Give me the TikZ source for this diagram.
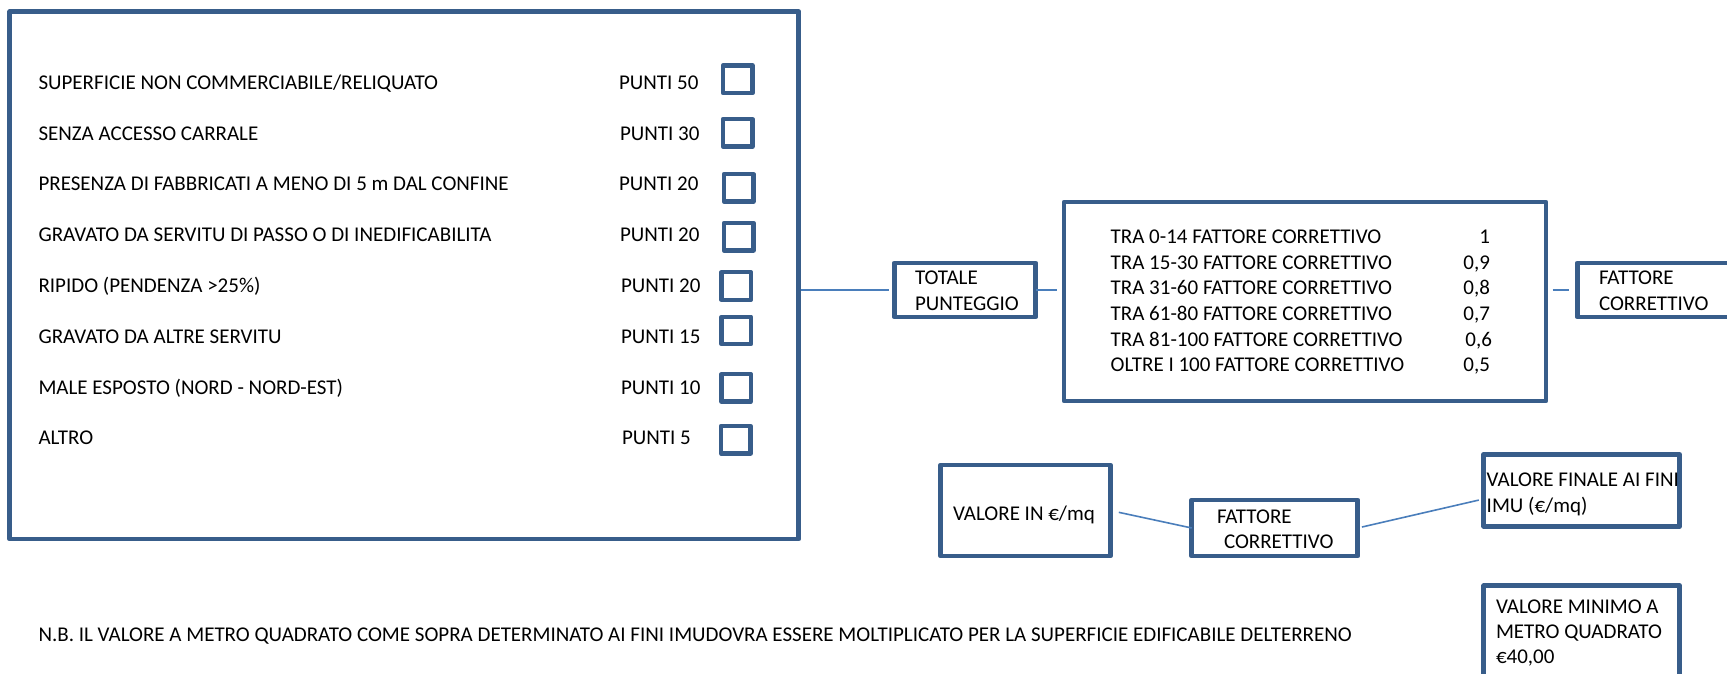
\documentclass[tikz,border=0pt]{standalone}
\usepackage{fontspec}
\setmainfont{Carlito}
\usetikzlibrary{calc}
\definecolor{boxc}{HTML}{385D8A}
\definecolor{linec}{HTML}{4A7EBB}
\begin{document}
\begin{tikzpicture}[x=1pt,y=-1pt,
  bx/.style={draw=boxc,line width=4.7pt,line join=round,rectangle,inner sep=0pt,outer sep=0pt},
  chk/.style={draw=boxc,line width=4.3pt,line join=round,rectangle,inner sep=0pt,outer sep=0pt,minimum width=29.5pt,minimum height=27.5pt},
  lbl/.style={anchor=base west,inner sep=0pt,outer sep=0pt,font=\fontsize{21}{25.7}\selectfont,text=black},
  val/.style={lbl,anchor=base east},
  conn/.style={draw=linec,line width=1.6pt}]
\useasboundingbox (0,0) rectangle (1727,674);
\clip (0,0) rectangle (1727,674);
\fill[white] (0,0) rectangle (1727,674);

% boxes
\node[bx,minimum width=789.1pt,minimum height=527.3pt] (big) at (404.25,275.35) {};
\node[bx,minimum width=141.4pt,minimum height=54pt] (tot) at (965,290) {};
\node[bx,minimum width=482pt,minimum height=199pt] (tab) at (1305,301.5) {};
\node[bx,minimum width=167.7pt,minimum height=54pt] (fat) at (1661.15,290) {};
\node[bx,minimum width=169.6pt,minimum height=91pt] (vin) at (1025.5,510.5) {};
\node[bx,minimum width=166pt,minimum height=56pt] (fs) at (1274.7,528) {};
\node[bx,minimum width=195.9pt,minimum height=71.9pt] (vf) at (1581.65,490.35) {};
\node[bx,minimum width=195.9pt,minimum height=114.3pt] (vmin) at (1581.65,642.85) {};

% checkboxes
\node[chk] (c1) at (737.7,79.3) {};
\node[chk] (c2) at (737.7,132.8) {};
\node[chk] (c3) at (738.7,187.8) {};
\node[chk] (c4) at (738.7,236.7) {};
\node[chk] (c5) at (736.2,286) {};
\node[chk] (c6) at (736.2,330.5) {};
\node[chk] (c7) at (736.2,387.8) {};
\node[chk] (c8) at (735.8,439.7) {};

% connectors
\draw[conn,shorten <=2.4pt,shorten >=5.6pt] (big.east |- tot.west) -- (tot.west);
\draw[conn,shorten >=7.3pt] (tot.east) -- (tab.west |- tot.east);
\draw[conn,shorten <=6.7pt,shorten >=8pt] (tab.east |- fat.west) -- (fat.west);
\draw[conn,shorten <=8.7pt] (vin.east) -- (fs.west);
\draw[conn,shorten <=4.3pt,shorten >=5pt] (fs.east) -- ($(vf.west)+(0,8.6)$);

% left list
\node[lbl] (t1) at (38.5,89.3) {SUPERFICIE NON COMMERCIABILE/RELIQUATO};
\node[lbl] (t2) at (38.5,140.1) {SENZA ACCESSO CARRALE};
\node[lbl] (t3) at (38.5,190.9) {PRESENZA DI FABBRICATI A MENO DI 5 m DAL CONFINE};
\node[lbl] (t4) at (38.5,241.7) {GRAVATO DA SERVITU DI PASSO O DI INEDIFICABILITA};
\node[lbl] (t5) at (38.5,292.5) {RIPIDO (PENDENZA >25\%)};
\node[lbl] (t6) at (38.5,343.3) {GRAVATO DA ALTRE SERVITU};
\node[lbl] (t7) at (38.5,394.1) {MALE ESPOSTO (NORD - NORD-EST)};
\node[lbl] (t8) at (38.5,444.9) {ALTRO};

\node[lbl] (p1) at (619,89.3) {PUNTI 50};
\node[lbl] (p2) at (620,140.1) {PUNTI 30};
\node[lbl] (p3) at (619,190.9) {PUNTI 20};
\node[lbl] (p4) at (620,241.7) {PUNTI 20};
\node[lbl] (p5) at (621,292.5) {PUNTI 20};
\node[lbl] (p6) at (621,343.3) {PUNTI 15};
\node[lbl] (p7) at (621,394.1) {PUNTI 10};
\node[lbl] (p8) at (622,444.9) {PUNTI 5};

% totale
\node[lbl] (tot1) at (915,284.3) {TOTALE};
\node[lbl] (tot2) at (915,310) {PUNTEGGIO};

% table
\node[lbl] (r1) at (1110.7,243.4) {TRA 0-14 FATTORE CORRETTIVO};
\node[lbl] (r2) at (1110.7,269.1) {TRA 15-30 FATTORE CORRETTIVO};
\node[lbl] (r3) at (1110.7,294.8) {TRA 31-60 FATTORE CORRETTIVO};
\node[lbl] (r4) at (1110.7,320.5) {TRA 61-80 FATTORE CORRETTIVO};
\node[lbl] (r5) at (1110.7,346.2) {TRA 81-100 FATTORE CORRETTIVO};
\node[lbl] (r6) at (1110.7,371.9) {OLTRE I 100 FATTORE CORRETTIVO};
\node[val] (v1) at (1490,243.4) {1};
\node[val] (v2) at (1490,269.1) {0,9};
\node[val] (v3) at (1490,294.8) {0,8};
\node[val] (v4) at (1490,320.5) {0,7};
\node[val] (v5) at (1492,346.2) {0,6};
\node[val] (v6) at (1490,371.9) {0,5};

% fattore right
\node[lbl] (fat1) at (1599,284.3) {FATTORE};
\node[lbl] (fat2) at (1599,310) {CORRETTIVO};

% bottom row
\node[lbl] (vintx) at (953,520) {VALORE IN €/mq};
\node[lbl] (fs1) at (1217,523) {FATTORE};
\node[lbl] (fs2) at (1224,548.6) {CORRETTIVO};
\node[lbl] (vf1) at (1486.7,486) {VALORE FINALE AI FINI};
\node[lbl] (vf2) at (1486.7,512) {IMU (€/mq)};
\node[lbl] (vm1) at (1496,613) {VALORE MINIMO A};
\node[lbl] (vm2) at (1496,638) {METRO QUADRATO};
\node[lbl] (vm3) at (1496,663) {€40,00};

% note
\node[lbl] (nb) at (38.5,641) {N.B. IL VALORE A METRO QUADRATO COME SOPRA DETERMINATO AI FINI IMUDOVRA ESSERE MOLTIPLICATO PER LA SUPERFICIE EDIFICABILE DELTERRENO};
\end{tikzpicture}
\end{document}
